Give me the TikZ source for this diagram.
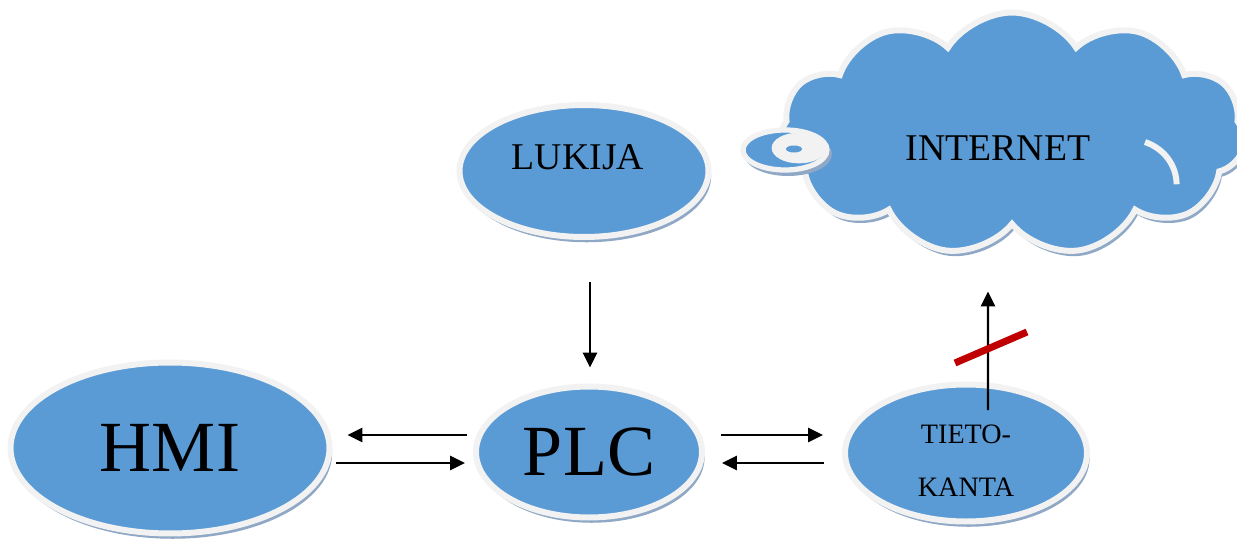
\documentclass[tikz,border=0pt]{standalone}
\usepackage{fontspec}
\setmainfont{Liberation Serif}
\usetikzlibrary{arrows.meta, calc, shapes.geometric, shapes.symbols, shadows}

\definecolor{blobblue}{HTML}{5B9BD5}
\definecolor{blobrim}{HTML}{F2F2F2}
\definecolor{blobshade}{HTML}{8FA8C6}
\definecolor{cutred}{HTML}{C00000}

\begin{document}
\begin{tikzpicture}[
  x=0.02cm, y=-0.02cm,
  blob/.style={ellipse, draw=blobrim, line width=3.4pt, fill=blobblue, inner sep=0pt,
    drop shadow={shadow xshift=1.5pt, shadow yshift=-3pt, fill=blobshade, opacity=1}},
  puff/.style={cloud, cloud puffs=11, cloud puff arc=115, aspect=1.9, draw=blobrim,
    line width=3.4pt, fill=blobblue, inner sep=0pt,
    drop shadow={shadow xshift=1.5pt, shadow yshift=-3pt, fill=blobshade, opacity=1}},
  flow/.style={-{Triangle[length=8.5pt, width=8pt]}, line width=1.4pt},
  big/.style={font=\fontsize{41}{45}\selectfont},
  mid/.style={font=\fontsize{21.5}{25}\selectfont},
  small/.style={font=\fontsize{16}{19}\selectfont}
]
\useasboundingbox (0,0) rectangle (1237,544);

% nodes
\node[blob, minimum width=6.38cm, minimum height=3.42cm, big] (hmi) at (170,448) {HMI};
\node[blob, minimum width=4.52cm, minimum height=2.62cm, big] (plc) at (589,452) {PLC};
\node[blob, minimum width=4.98cm, minimum height=2.64cm,
  label={[mid, xshift=-0.12cm, yshift=0.28cm]center:LUKIJA}] (lukija) at (584,171) {};
\node[blob, minimum width=4.84cm, minimum height=2.74cm] (tieto) at (966,453) {};
\node[small] (tietoA) at (966,434) {TIETO-};
\node[small] (tietoB) at (966,487) {KANTA};

% cloud with its tail
\node[puff, minimum width=9.3cm, minimum height=4.86cm,
  label={[mid, xshift=-0.28cm, yshift=-0.28cm]center:INTERNET}] (internet) at (1012,134) {};
\draw[blobrim, line width=3.4pt] (1145,142) arc [start angle=-70, end angle=0, x radius=48, y radius=45];
\fill[blobshade] (788,154) ellipse [x radius=44, y radius=22];
\filldraw[blobblue, draw=blobrim, line width=3pt] (785,150) ellipse [x radius=42, y radius=20];
\filldraw[blobrim] (799,148) ellipse [x radius=27, y radius=15];
\fill[blobblue] (794,149) ellipse [x radius=8, y radius=3.5];

% links
\draw[flow] ($(lukija.south)+(6,42)$) -- ($(plc.north)+(1,-16)$);
\draw[flow] ($(plc.west)+(-6,-17)$) -- ($(hmi.east)+(15,-13)$);
\draw[flow] ($(hmi.east)+(3.5,15)$) -- ($(plc.west)+(-8,11)$);
\draw[flow] ($(plc.east)+(16,-17)$) -- ($(tieto.west)+(-19,-18)$);
\draw[flow] ($(tieto.west)+(-18,10)$) -- ($(plc.east)+(17,11)$);
\draw[flow] ($(tieto.north)+(22,28.5)$) -- ($(internet.south)+(-24,63)$);

% blocked link
\draw[cutred, line width=4pt] (955,363) -- (1027,332);
\end{tikzpicture}
\end{document}
